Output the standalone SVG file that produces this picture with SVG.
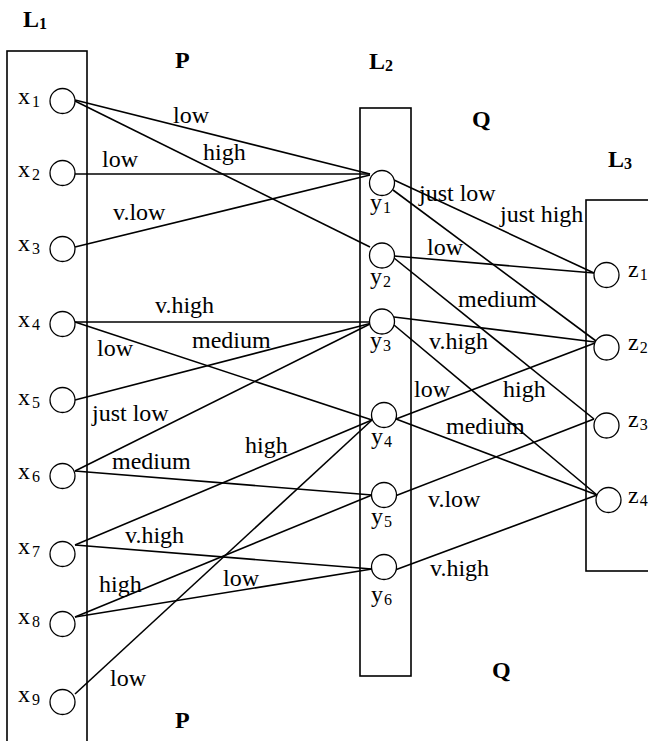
<svg xmlns="http://www.w3.org/2000/svg" width="648" height="741" viewBox="0 0 648 741">
<style>
  .box { fill: none; stroke: #000; stroke-width: 1.6; }
  .node { fill: #fff; stroke: #000; stroke-width: 1.3; }
  .edge { stroke: #000; stroke-width: 1.6; fill: none; }
  .t { font-family: "Liberation Serif", "Times New Roman", serif; font-size: 24px; fill: #000; }
  .b { font-family: "Liberation Serif", "Times New Roman", serif; font-size: 24px; font-weight: bold; fill: #000; }
  .s { font-size: 16px; }
</style>
<rect width="648" height="741" fill="#fff"/>

<g id="layer-L1">
  <rect class="box" x="7" y="51" width="80" height="720"/>
  <text class="b" x="23" y="27">L<tspan class="s" dy="2">1</tspan></text>
</g>
<g id="layer-L2">
  <rect class="box" x="360" y="108" width="51" height="568"/>
  <text class="b" x="369" y="69">L<tspan class="s" dy="2">2</tspan></text>
</g>
<g id="layer-L3">
  <rect class="box" x="586" y="200" width="80" height="371"/>
  <text class="b" x="608" y="167">L<tspan class="s" dy="2">3</tspan></text>
</g>

<g id="relation-labels">
  <text class="b" x="175" y="68">P</text>
  <text class="b" x="472" y="127">Q</text>
  <text class="b" x="175" y="728">P</text>
  <text class="b" x="492" y="678">Q</text>
</g>

<g id="connectors">
  <line class="edge" x1="75" y1="100" x2="370" y2="174"/>
  <line class="edge" x1="75" y1="101" x2="370" y2="247"/>
  <line class="edge" x1="75" y1="174" x2="370" y2="174"/>
  <line class="edge" x1="75" y1="247" x2="370" y2="175"/>
  <line class="edge" x1="75" y1="322" x2="372" y2="322"/>
  <line class="edge" x1="75" y1="322" x2="372" y2="420"/>
  <line class="edge" x1="75" y1="400" x2="372" y2="323"/>
  <line class="edge" x1="75" y1="471" x2="372" y2="323"/>
  <line class="edge" x1="75" y1="471" x2="372" y2="495"/>
  <line class="edge" x1="75" y1="545" x2="372" y2="420"/>
  <line class="edge" x1="75" y1="545" x2="372" y2="569"/>
  <line class="edge" x1="75" y1="617" x2="372" y2="495"/>
  <line class="edge" x1="75" y1="617" x2="372" y2="569"/>
  <line class="edge" x1="75" y1="694" x2="372" y2="420"/>

  <line class="edge" x1="394" y1="180" x2="594" y2="273"/>
  <line class="edge" x1="393" y1="190" x2="596" y2="341"/>
  <line class="edge" x1="394" y1="256" x2="594" y2="273"/>
  <line class="edge" x1="394" y1="258" x2="594" y2="419"/>
  <line class="edge" x1="394" y1="317" x2="595" y2="342"/>
  <line class="edge" x1="394" y1="325" x2="597" y2="495"/>
  <line class="edge" x1="396" y1="419" x2="595" y2="343"/>
  <line class="edge" x1="396" y1="419" x2="597" y2="495"/>
  <line class="edge" x1="395" y1="496" x2="594" y2="419"/>
  <line class="edge" x1="395" y1="570" x2="597" y2="495"/>

  <g id="edge-labels">
    <text class="t" x="173" y="123">low</text>
    <text class="t" x="203" y="160">high</text>
    <text class="t" x="102" y="167">low</text>
    <text class="t" x="113" y="220">v.low</text>
    <text class="t" x="155" y="313">v.high</text>
    <text class="t" x="97" y="356">low</text>
    <text class="t" x="192" y="348">medium</text>
    <text class="t" x="92" y="421">just low</text>
    <text class="t" x="112" y="469">medium</text>
    <text class="t" x="245" y="453">high</text>
    <text class="t" x="125" y="543">v.high</text>
    <text class="t" x="99" y="592">high</text>
    <text class="t" x="223" y="586">low</text>
    <text class="t" x="110" y="686">low</text>

    <text class="t" x="419" y="201">just low</text>
    <text class="t" x="500" y="222">just high</text>
    <text class="t" x="427" y="255">low</text>
    <text class="t" x="458" y="307">medium</text>
    <text class="t" x="429" y="349">v.high</text>
    <text class="t" x="414" y="397">low</text>
    <text class="t" x="503" y="397">high</text>
    <text class="t" x="446" y="434">medium</text>
    <text class="t" x="428" y="507">v.low</text>
    <text class="t" x="430" y="576">v.high</text>
  </g>
</g>

<g id="x1"><circle class="node" cx="62.5" cy="101" r="12.5"/><text class="t" x="18" y="104">x<tspan class="s" dx="2" dy="3">1</tspan></text></g>
<g id="x2"><circle class="node" cx="62.5" cy="173" r="12.5"/><text class="t" x="18" y="177">x<tspan class="s" dx="2" dy="3">2</tspan></text></g>
<g id="x3"><circle class="node" cx="62.5" cy="249" r="12.5"/><text class="t" x="18" y="251">x<tspan class="s" dx="2" dy="3">3</tspan></text></g>
<g id="x4"><circle class="node" cx="62.5" cy="324" r="12.5"/><text class="t" x="18" y="327">x<tspan class="s" dx="2" dy="3">4</tspan></text></g>
<g id="x5"><circle class="node" cx="62.5" cy="400" r="12.5"/><text class="t" x="18" y="405">x<tspan class="s" dx="2" dy="3">5</tspan></text></g>
<g id="x6"><circle class="node" cx="62.5" cy="476" r="12.5"/><text class="t" x="18" y="479">x<tspan class="s" dx="2" dy="3">6</tspan></text></g>
<g id="x7"><circle class="node" cx="62.5" cy="554" r="12.5"/><text class="t" x="18" y="554">x<tspan class="s" dx="2" dy="3">7</tspan></text></g>
<g id="x8"><circle class="node" cx="62.5" cy="624" r="12.5"/><text class="t" x="18" y="624">x<tspan class="s" dx="2" dy="3">8</tspan></text></g>
<g id="x9"><circle class="node" cx="62.5" cy="702" r="12.5"/><text class="t" x="18" y="702">x<tspan class="s" dx="2" dy="3">9</tspan></text></g>

<g id="y1"><circle class="node" cx="382" cy="183" r="12.5"/><text class="t" x="370" y="210">y<tspan class="s" dx="1" dy="3">1</tspan></text></g>
<g id="y2"><circle class="node" cx="382" cy="255.5" r="12.5"/><text class="t" x="370" y="284">y<tspan class="s" dx="1" dy="3">2</tspan></text></g>
<g id="y3"><circle class="node" cx="382" cy="321.5" r="12.5"/><text class="t" x="370" y="348">y<tspan class="s" dx="1" dy="3">3</tspan></text></g>
<g id="y4"><circle class="node" cx="384" cy="415" r="12.5"/><text class="t" x="371" y="444">y<tspan class="s" dx="1" dy="3">4</tspan></text></g>
<g id="y5"><circle class="node" cx="384" cy="495" r="12.5"/><text class="t" x="371" y="524">y<tspan class="s" dx="1" dy="3">5</tspan></text></g>
<g id="y6"><circle class="node" cx="384" cy="567" r="12.5"/><text class="t" x="371" y="602">y<tspan class="s" dx="1" dy="3">6</tspan></text></g>

<g id="z1"><circle class="node" cx="606.5" cy="275" r="12.5"/><text class="t" x="628" y="277">z<tspan class="s" dx="1" dy="3">1</tspan></text></g>
<g id="z2"><circle class="node" cx="606.5" cy="347.5" r="12.5"/><text class="t" x="628" y="350">z<tspan class="s" dx="1" dy="3">2</tspan></text></g>
<g id="z3"><circle class="node" cx="606.5" cy="425.5" r="12.5"/><text class="t" x="628" y="427">z<tspan class="s" dx="1" dy="3">3</tspan></text></g>
<g id="z4"><circle class="node" cx="608.5" cy="500" r="12.5"/><text class="t" x="628" y="503">z<tspan class="s" dx="1" dy="3">4</tspan></text></g>
</svg>
